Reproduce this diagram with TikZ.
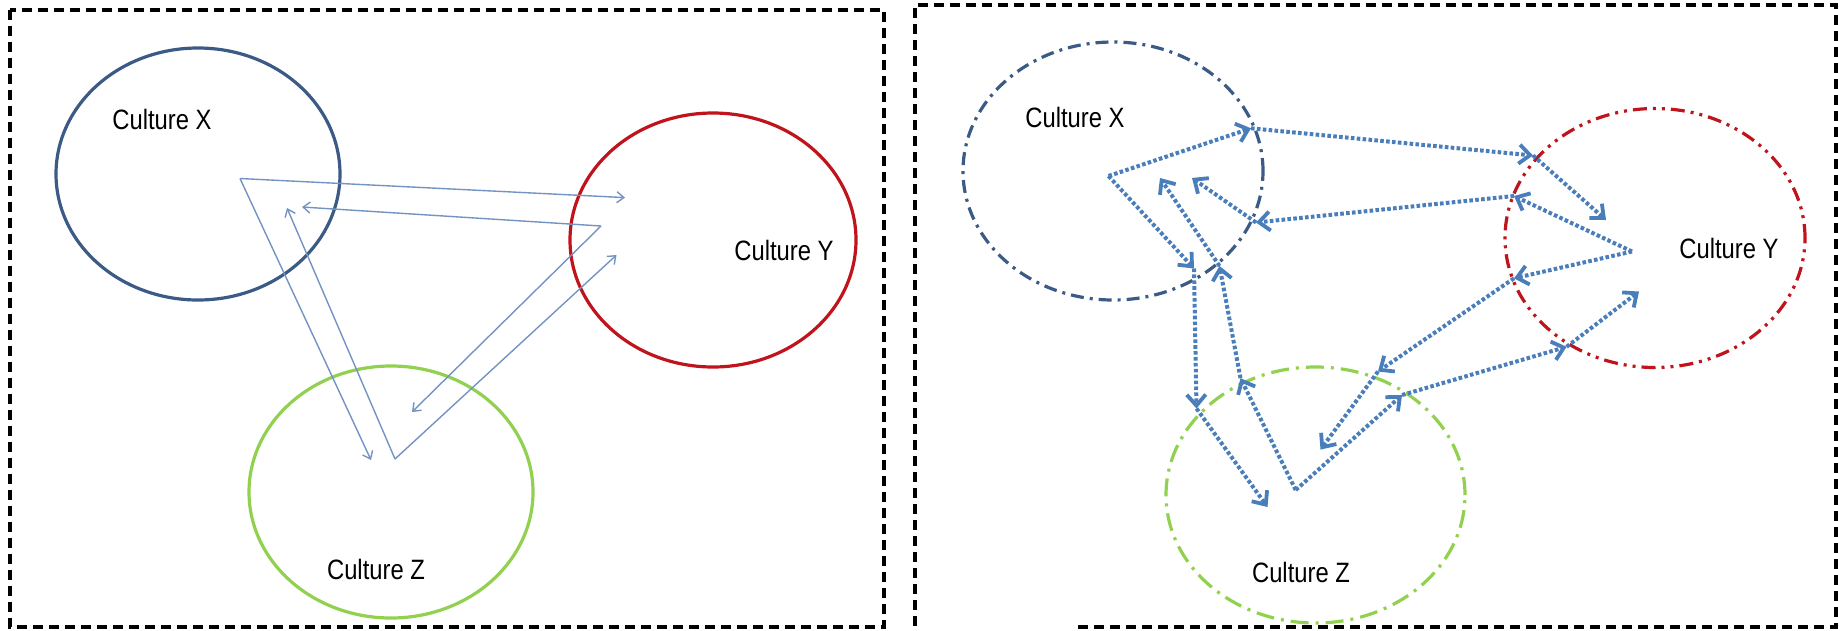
\documentclass[tikz,border=0pt]{standalone}
\usepackage{fontspec}
\setmainfont{Liberation Sans}[FakeStretch=0.85]
\usetikzlibrary{arrows.meta,shapes.geometric}
\definecolor{cxblue}{HTML}{3B5A85}
\definecolor{cyred}{HTML}{C0141C}
\definecolor{czgreen}{HTML}{92D050}
\definecolor{arrblue}{HTML}{4A7EBB}
\definecolor{thinblue}{HTML}{7393C2}
\tikzset{
  frame/.style={draw=black, line width=3.4pt, dash pattern=on 10pt off 6pt},
  culture/.style={ellipse, inner sep=0pt, line width=3.2pt},
  lbl/.style={inner sep=0pt, font=\fontsize{28pt}{30pt}\selectfont, text=black},
  thinarrow/.style={draw=thinblue, line width=1.4pt, -{Straight Barb[length=7pt,width=11pt]}},
  dotarrow/.style={draw=arrblue, line width=4pt, dash pattern=on 3.6pt off 2.3pt,
    -{Straight Barb[length=11pt,width=19pt,line width=3.8pt]}},
  dashdotX/.style={dash pattern=on 13pt off 6pt on 3pt off 6pt},
  dashdotdotY/.style={dash pattern=on 14pt off 6pt on 3pt off 6pt on 3pt off 6pt},
  dashdotZ/.style={dash pattern=on 18pt off 7pt on 3pt off 7pt},
}
\begin{document}
\begin{tikzpicture}[x=1pt,y=-1pt]
\useasboundingbox (0,0) rectangle (1841,630);

% ---------- left panel ----------
\draw[frame] (10,10) rectangle (884,627);

\node[culture, draw=cxblue, minimum width=284pt, minimum height=252pt] (LX) at (198,174) {};
\node[culture, draw=cyred, minimum width=286pt, minimum height=254pt] (LY) at (713,240) {};
\node[culture, draw=czgreen, minimum width=284pt, minimum height=252pt] (LZ) at (391,492) {};

\node[lbl] (LXt) at (162,119) {Culture X};
\node[lbl] (LYt) at (784,250) {Culture Y};
\node[lbl] (LZt) at (376,569) {Culture Z};

\coordinate (V1) at (240,178.5);
\coordinate (V2) at (601,226);
\coordinate (V3) at (395,459);
\coordinate (tY1) at (625,197.6);
\coordinate (tZ1) at (371,460);
\coordinate (tX2) at (302,207);
\coordinate (tZ2) at (412,412);
\coordinate (tX3) at (287,208);
\coordinate (tY3) at (616.5,255);

\draw[thinarrow] (V1) -- (tY1);
\draw[thinarrow] (V1) -- (tZ1);
\draw[thinarrow] (V2) -- (tX2);
\draw[thinarrow] (V2) -- (tZ2);
\draw[thinarrow] (V3) -- (tX3);
\draw[thinarrow] (V3) -- (tY3);

% ---------- right panel ----------
\draw[frame] (1078,627) -- (1836,627) -- (1836,5) -- (915,5) -- (915,627);

\node[culture, draw=cxblue, dashdotX, minimum width=300pt, minimum height=258pt] (RX) at (1113,171) {};
\node[culture, draw=cyred, dashdotdotY, minimum width=300pt, minimum height=259pt] (RY) at (1655,238) {};
\node[culture, draw=czgreen, dashdotZ, minimum width=299pt, minimum height=256pt] (RZ) at (1315.5,495) {};

\node[lbl] (RXt) at (1075,117) {Culture X};
\node[lbl] (RYt) at (1729,248) {Culture Y};
\node[lbl] (RZt) at (1301,572) {Culture Z};

\coordinate (HX) at (1108.5,176);
\coordinate (HY) at (1632,251.5);
\coordinate (HZ) at (1295.7,490);

\coordinate (a1) at (1251,128.3);
\coordinate (a2) at (1533,155.5);
\coordinate (a3) at (1606,220);
\coordinate (b1) at (1194,268.5);
\coordinate (b2) at (1196.5,408.5);
\coordinate (b3) at (1267.5,507);
\coordinate (c1) at (1514,196);
\coordinate (c2) at (1256,222.5);
\coordinate (c3) at (1192,178);
\coordinate (d1) at (1514,278.3);
\coordinate (d2) at (1378,371.5);
\coordinate (d3) at (1320.5,449.6);
\coordinate (e1) at (1402,395);
\coordinate (e2) at (1566.6,346.8);
\coordinate (e3) at (1639,291.5);
\coordinate (f1) at (1240.5,378.2);
\coordinate (f2) at (1219.5,266);
\coordinate (f3) at (1160,178);

\draw[dotarrow] (HX) -- (a1);
\draw[dotarrow] (a1) -- (a2);
\draw[dotarrow] (a2) -- (a3);
\draw[dotarrow] (HX) -- (b1);
\draw[dotarrow] (b1) -- (b2);
\draw[dotarrow] (b2) -- (b3);
\draw[dotarrow] (HY) -- (c1);
\draw[dotarrow] (c1) -- (c2);
\draw[dotarrow] (c2) -- (c3);
\draw[dotarrow] (HY) -- (d1);
\draw[dotarrow] (d1) -- (d2);
\draw[dotarrow] (d2) -- (d3);
\draw[dotarrow] (HZ) -- (e1);
\draw[dotarrow] (e1) -- (e2);
\draw[dotarrow] (e2) -- (e3);
\draw[dotarrow] (HZ) -- (f1);
\draw[dotarrow] (f1) -- (f2);
\draw[dotarrow] (f2) -- (f3);
\end{tikzpicture}
\end{document}
